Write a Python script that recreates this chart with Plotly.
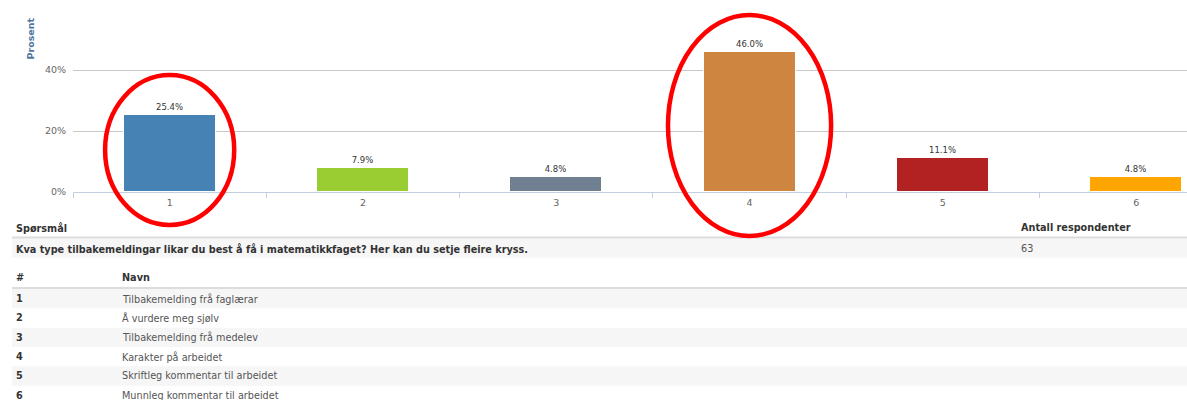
import plotly.graph_objects as go

# ---------------- data ----------------
categories = [1, 2, 3, 4, 5, 6]
percent = [25.4, 7.9, 4.8, 46.0, 11.1, 4.8]
bar_colors = ["#4682B4", "#9ACD32", "#708090", "#CD853F", "#B22222", "#FFA500"]
y_tick_values = [0, 20, 40]
y_tick_labels = ["0%", "20%", "40%"]
y_title = "Prosent"
highlighted = [1, 4]

question_header = "Spørsmål"
respondents_header = "Antall respondenter"
question_text = "Kva type tilbakemeldingar likar du best å få i matematikkfaget? Her kan du setje fleire kryss."
respondents = "63"
option_num_header = "#"
option_name_header = "Navn"
option_numbers = ["1", "2", "3", "4", "5", "6"]
option_names = [
    "Tilbakemelding frå faglærar",
    "Å vurdere meg sjølv",
    "Tilbakemelding frå medelev",
    "Karakter på arbeidet",
    "Skriftleg kommentar til arbeidet",
    "Munnleg kommentar til arbeidet",
]

# ---------------- layout geometry ----------------
W, H = 1187, 400
ML, MR, MT, MB = 73, 0, 9, 208
CAT_PX = 193.3
x_range = [0.5, 0.5 + (W - ML - MR) / CAT_PX]
y_range = [0, 60]
FONT = "DejaVu Sans"


def px_x(px):
    return (px - ML) / (W - ML - MR)


def px_y(py):
    return (H - MB - py) / (H - MT - MB)


def data_x(xv):
    return (xv - x_range[0]) / (x_range[1] - x_range[0])


fig = go.Figure()
fig.add_trace(go.Bar(
    x=categories,
    y=percent,
    width=0.476,
    marker=dict(color=bar_colors, line=dict(color="#ffffff", width=1)),
    text=[f"{v:.1f}%" for v in percent],
    texttemplate="%{text}",
    textposition="outside",
    textfont=dict(family=FONT, size=8.5, color="#333333"),
    cliponaxis=False,
    hoverinfo="skip",
))

shapes = []
annotations = []

# y-axis title (top aligned, rotated)
annotations.append(dict(
    text="<b>" + y_title + "</b>", textangle=-90, x=px_x(30.5), y=px_y(39),
    xref="paper", yref="paper", showarrow=False, xanchor="center", yanchor="middle",
    font=dict(family=FONT, size=9.5, color="#4d759e"),
))

# ---------------- table below the chart ----------------
LINE_COL = "#dcdcdc"
ROW_BG = "#f6f6f6"
TX_L = 14
TX_NAME = 120
TX_R = 1019
HDR_COL = "#333333"
BODY_COL = "#555555"

# question header line + row background
shapes.append(dict(type="rect", xref="paper", yref="paper",
                   x0=px_x(12), x1=px_x(W), y0=px_y(238.6), y1=px_y(257.4),
                   fillcolor=ROW_BG, line=dict(width=0), layer="below"))
shapes.append(dict(type="line", xref="paper", yref="paper",
                   x0=px_x(12), x1=px_x(W), y0=px_y(237.5), y1=px_y(237.5),
                   line=dict(color=LINE_COL, width=2)))

annotations.append(dict(text="<b>" + question_header + "</b>", x=px_x(TX_L), y=px_y(227.7)))
annotations.append(dict(text="<b>" + respondents_header + "</b>", x=px_x(TX_R), y=px_y(227.7)))
annotations.append(dict(text="<b>" + question_text + "</b>", x=px_x(TX_L), y=px_y(248.5)))
annotations.append(dict(text=respondents, x=px_x(TX_R), y=px_y(248.5), font_color=BODY_COL))

# option list
shapes.append(dict(type="line", xref="paper", yref="paper",
                   x0=px_x(12), x1=px_x(W), y0=px_y(288), y1=px_y(288),
                   line=dict(color=LINE_COL, width=2)))
annotations.append(dict(text="<b>" + option_num_header + "</b>", x=px_x(TX_L), y=px_y(277.7)))
annotations.append(dict(text="<b>" + option_name_header + "</b>", x=px_x(TX_NAME), y=px_y(277.7)))

ROW_TOP = 289.0
ROW_H = 19.33
for i, (num, name) in enumerate(zip(option_numbers, option_names)):
    top = ROW_TOP + i * ROW_H
    if i % 2 == 0:
        shapes.append(dict(type="rect", xref="paper", yref="paper",
                           x0=px_x(12), x1=px_x(W), y0=px_y(top), y1=px_y(top + ROW_H),
                           fillcolor=ROW_BG, line=dict(width=0), layer="below"))
    cy = top + ROW_H / 2
    annotations.append(dict(text="<b>" + num + "</b>", x=px_x(TX_L), y=px_y(cy)))
    annotations.append(dict(text=name, x=px_x(TX_NAME), y=px_y(cy), font_color=BODY_COL))

# common annotation defaults for table text
for a in annotations[1:]:
    a.setdefault("xref", "paper")
    a.setdefault("yref", "paper")
    a.setdefault("showarrow", False)
    a.setdefault("xanchor", "left")
    a.setdefault("yanchor", "middle")
    col = a.pop("font_color", HDR_COL)
    a.setdefault("font", dict(family=FONT, size=9.7, color=col))

# ---------------- red highlight ellipses ----------------
ellipse_half_w = {1: 0.334, 4: 0.422}
ellipse_y_px = {1: (75, 225), 4: (15, 236)}
for c in highlighted:
    hw = ellipse_half_w[c]
    y0, y1 = ellipse_y_px[c]
    shapes.append(dict(type="circle", xref="paper", yref="paper",
                       x0=data_x(c - hw), x1=data_x(c + hw),
                       y0=px_y(y1), y1=px_y(y0),
                       line=dict(color="#ff0000", width=4.5), layer="above"))

fig.update_layout(
    width=W, height=H,
    margin=dict(l=ML, r=MR, t=MT, b=MB, pad=0),
    paper_bgcolor="#ffffff", plot_bgcolor="#ffffff",
    showlegend=False,
    bargap=0,
    font=dict(family=FONT, color="#666666"),
    shapes=shapes,
    annotations=annotations,
    xaxis=dict(
        range=x_range, tickmode="array", tickvals=categories,
        ticktext=[str(c) for c in categories],
        ticks="outside", ticklen=2, tickcolor="rgba(0,0,0,0)",
        showgrid=False, showline=False, zeroline=False,
        tickfont=dict(family=FONT, size=9.5, color="#666666"),
        minor=dict(tickmode="array", tickvals=[c - 0.5 for c in categories] + [categories[-1] + 0.5],
                   ticks="outside", ticklen=5, tickwidth=1, tickcolor="#C0D0E0", showgrid=False),
        fixedrange=True,
    ),
    yaxis=dict(
        range=y_range, tickmode="array", tickvals=y_tick_values, ticktext=y_tick_labels,
        showgrid=True, gridcolor="#C8C8C8", gridwidth=1,
        zeroline=True, zerolinecolor="#C0D0E0", zerolinewidth=1,
        showline=False, ticks="outside", ticklen=4, tickcolor="rgba(0,0,0,0)",
        tickfont=dict(family=FONT, size=9.5, color="#666666"),
        fixedrange=True,
    ),
)

fig.write_html(
    "out.html",
    config={"displayModeBar": False},
    post_script="document.body.style.margin='0';document.body.style.padding='0';",
)
